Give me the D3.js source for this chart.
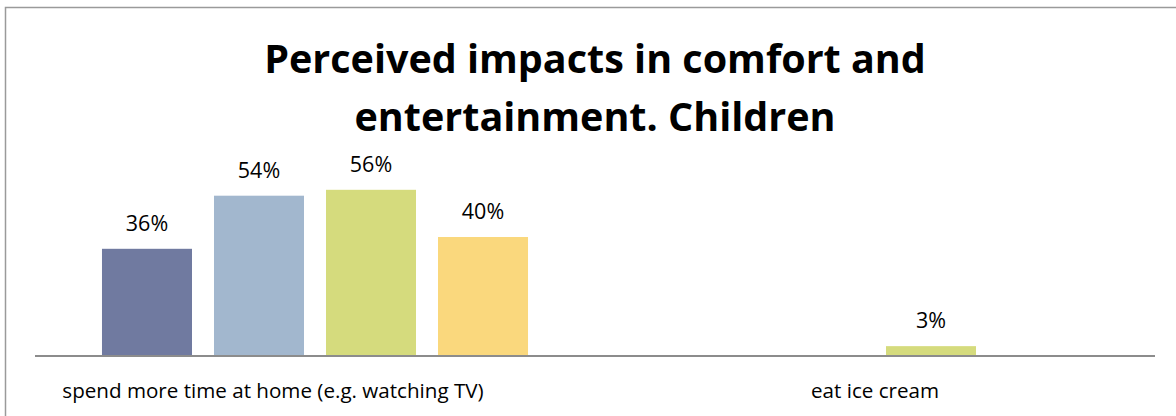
<!DOCTYPE html>
<html>
<head>
<meta charset="utf-8">
<script src="https://cdn.jsdelivr.net/npm/d3@7"></script>
<style>
  html, body { margin: 0; padding: 0; background: #fff; }
  svg { display: block; }
  text { font-family: "Open Sans", "Noto Sans", sans-serif; fill: #000; }
</style>
</head>
<body>
<script>
// Chart data
const categories = ["spend more time at home (e.g. watching TV)", "eat ice cream"];
const seriesNames = ["Series 1", "Series 2", "Series 3", "Series 4"];
const series1 = [0.36, null];
const series2 = [0.54, null];
const series3 = [0.56, 0.03];
const series4 = [0.40, null];
const titleLines = ["Perceived impacts in comfort and", "entertainment. Children"];

const colors = ["#707AA0", "#A2B7CE", "#D5DB7D", "#FAD87D"];
const seriesValues = [series1, series2, series3, series4];

const W = 1176, H = 416;
const svg = d3.select("body").append("svg").attr("width", W).attr("height", H);

// chart frame (top and left edges visible)
svg.append("path")
  .attr("d", `M5.5,${H} V7.5 H${W}`)
  .attr("fill", "none").attr("stroke", "#9a9a9a").attr("stroke-width", 1.5);

const plot = { left: 35, right: 1155, baseline: 355 };

const x0 = d3.scaleBand().domain(categories).range([plot.left, plot.right]).padding(0);
const x1 = d3.scaleBand().domain(seriesNames).range([0, x0.bandwidth()])
  .paddingInner(0.1964).paddingOuter(0.598);
const y = d3.scaleLinear().domain([0, 0.6]).range([plot.baseline, 178]);
const fmt = d3.format(".0%");

const rows = [];
categories.forEach((c, ci) => {
  seriesNames.forEach((s, si) => {
    const v = seriesValues[si][ci];
    if (v != null) rows.push({ cat: c, ser: s, v, color: colors[si] });
  });
});

const g = svg.append("g");
g.selectAll("rect.bar").data(rows).join("rect")
  .attr("class", "bar")
  .attr("x", d => x0(d.cat) + x1(d.ser))
  .attr("width", x1.bandwidth())
  .attr("y", d => y(d.v))
  .attr("height", d => y(0) - y(d.v))
  .attr("fill", d => d.color);

g.selectAll("text.val").data(rows).join("text")
  .attr("class", "val")
  .attr("x", d => x0(d.cat) + x1(d.ser) + x1.bandwidth() / 2)
  .attr("y", d => y(d.v) - 18)
  .attr("text-anchor", "middle")
  .style("font-size", "21.5px")
  .text(d => fmt(d.v));

// category axis line
svg.append("line")
  .attr("x1", plot.left).attr("x2", plot.right)
  .attr("y1", plot.baseline + 1).attr("y2", plot.baseline + 1)
  .attr("stroke", "#8c8c8c").attr("stroke-width", 2);

// category labels
const labelShift = [-42, 0];
svg.selectAll("text.cat").data(categories).join("text")
  .attr("class", "cat")
  .attr("x", (d, i) => x0(d) + x0.bandwidth() / 2 + labelShift[i])
  .attr("y", 398)
  .attr("text-anchor", "middle")
  .style("font-size", "20.6px")
  .text(d => d);

// title
svg.selectAll("text.title").data(titleLines).join("text")
  .attr("class", "title")
  .attr("x", 595)
  .attr("y", (d, i) => 73 + i * 58)
  .attr("text-anchor", "middle")
  .style("font-size", "39.5px")
  .style("font-weight", "bold")
  .text(d => d);
</script>
</body>
</html>
